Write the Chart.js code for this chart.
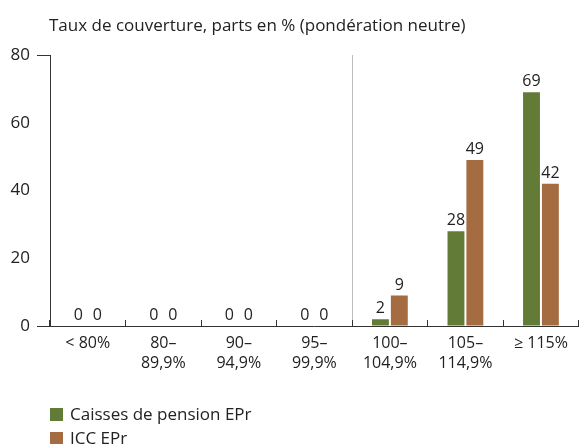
<!DOCTYPE html>
<html>
<head>
<meta charset="utf-8">
<script src="https://cdn.jsdelivr.net/npm/chart.js@4.4.1/dist/chart.umd.min.js"></script>
<style>
  html, body { margin: 0; padding: 0; background: #fff; }
  #wrap { position: relative; width: 581px; height: 444px; font-family: 'Open Sans', sans-serif; color: #222; }
  #titre { position: absolute; left: 49px; top: 14px; font-size: 17px; line-height: 22px; white-space: nowrap; }
  #legende { position: absolute; left: 50px; top: 402px; font-size: 17px; line-height: 24px; }
  #legende .item { display: flex; align-items: center; height: 24px; }
  #legende .carre { width: 13px; height: 13px; margin-right: 7px; }
</style>
</head>
<body>
<div id="wrap">
  <canvas id="graphique" width="581" height="444"></canvas>
  <div id="titre">Taux de couverture, parts en % (pondération neutre)</div>
  <div id="legende"></div>
</div>
<script>
categories = [['< 80%'], ['80–', '89,9%'], ['90–', '94,9%'], ['95–', '99,9%'], ['100–', '104,9%'], ['105–', '114,9%'], ['≥ 115%']]
nomsSeries = ['Caisses de pension EPr', 'ICC EPr']
caisses = [0, 0, 0, 0, 2, 28, 69]
icc = [0, 0, 0, 0, 9, 49, 42]
cores = ['#627b37', '#a56c42']

// valeurs au-dessus des barres
var etiquettes = {
	id: 'etiquettes',
	afterDatasetsDraw: function (chart) {
		var ctx = chart.ctx
		ctx.save()
		ctx.font = '16px "Open Sans"'
		ctx.fillStyle = '#222'
		ctx.textAlign = 'center'
		ctx.textBaseline = 'alphabetic'
		chart.data.datasets.forEach(function (ds, i) {
			chart.getDatasetMeta(i).data.forEach(function (bar, j) {
				ctx.fillText(ds.data[j], bar.x, bar.y - 6)
			})
		})
		ctx.restore()
	}
}

var ctx = document.getElementById('graphique').getContext('2d')
var graphique = new Chart(ctx, {
	type: 'bar',
	data: {
		labels: categories,
		datasets: [
			{ label: nomsSeries[0], data: caisses, backgroundColor: cores[0] },
			{ label: nomsSeries[1], data: icc, backgroundColor: cores[1] },
		],
	},
	options: {
		responsive: false,
		animation: false,
		categoryPercentage: 0.5,
		barPercentage: 0.895,
		layout: {
			padding: { top: 55, right: 1, bottom: 58, left: 0 },
		},
		plugins: {
			legend: { display: false },
			tooltip: { enabled: false },
		},
		scales: {
			x: {
				offset: true,
				afterFit: function (s) { s.height = 60 },
				border: { color: '#333', width: 1 },
				grid: {
					offset: true,
					drawOnChartArea: true,
					tickLength: -6,
					tickColor: '#333',
					color: function (c) { return c.index === 4 ? '#bdbdbd' : 'rgba(0,0,0,0)' },
				},
				ticks: {
					color: '#222',
					padding: 13,
					maxRotation: 0,
					autoSkip: false,
					font: { family: 'Open Sans', size: 16, lineHeight: 1.25 },
				},
			},
			y: {
				min: 0,
				max: 80,
				afterFit: function (s) { s.width = 50 },
				border: { color: '#333', width: 1 },
				grid: {
					drawOnChartArea: false,
					tickLength: 13,
					tickColor: function (c) { return (c.index === 0 || c.index === 4) ? '#333' : 'rgba(0,0,0,0)' },
				},
				ticks: {
					stepSize: 20,
					color: '#222',
					padding: 7,
					font: { family: 'Open Sans', size: 17 },
				},
			},
		},
	},
	plugins: [etiquettes],
})

// légende empilée sous le graphique
var legende = document.getElementById('legende')
graphique.data.datasets.forEach(function (ds) {
	legende.innerHTML += '<div class="item"><span class="carre" style="background:' + ds.backgroundColor + '"></span>' + ds.label + '</div>'
})
</script>
</body>
</html>
